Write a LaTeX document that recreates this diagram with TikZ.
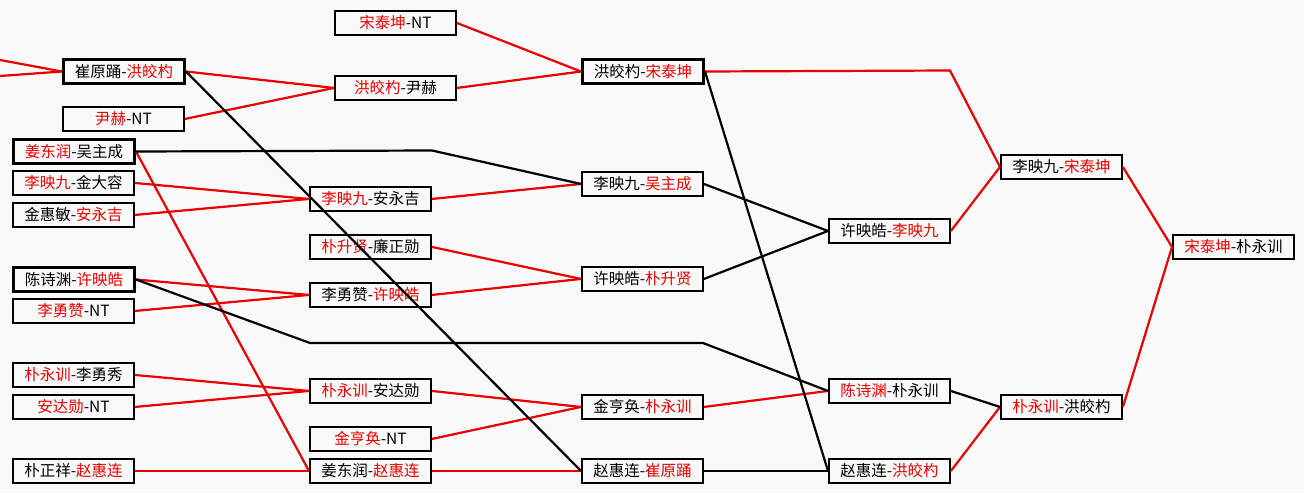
\documentclass[tikz,border=0pt]{standalone}
\usepackage{fontspec}
\setmainfont{Noto Sans CJK SC}
\definecolor{bgc}{RGB}{249,249,249}
\definecolor{rd}{RGB}{232,0,0}
\newcommand\redt[1]{\textcolor{rd}{#1}}
\begin{document}
\begin{tikzpicture}[x=1pt,y=-1pt,
  box/.style={draw=black,line width=1.9pt,minimum width=121pt,minimum height=24pt,inner sep=0pt,anchor=north west,font=\fontsize{15.5}{15.5}\selectfont},
  bbox/.style={box,line width=3pt},
  rl/.style={draw=rd,line width=2.2pt},
  bl/.style={draw=black,line width=2.2pt}]
\fill[bgc] (0,0) rectangle (1304,493);
\useasboundingbox (0,0) rectangle (1304,493);
% column 1
\node[box]  (A) at (334,10)  {\redt{宋泰坤}-NT};
\node[bbox] (B) at (62,58)   {崔原踊-\redt{洪皎杓}};
\node[box]  (C) at (334,75)  {\redt{洪皎杓}-尹赫};
\node[box]  (D) at (62,106)  {\redt{尹赫}-NT};
\node[bbox] (E) at (12,138)  {\redt{姜东润}-吴主成};
\node[box]  (F) at (12,170)  {\redt{李映九}-金大容};
\node[box]  (G) at (12,202)  {金惠敏-\redt{安永吉}};
\node[box]  (H) at (309,186) {\redt{李映九}-安永吉};
\node[box]  (I) at (309,234) {\redt{朴升贤}-廉正勋};
\node[bbox] (J) at (12,266)  {陈诗渊-\redt{许映皓}};
\node[box]  (K) at (12,298)  {\redt{李勇赞}-NT};
\node[box]  (L) at (309,282) {李勇赞-\redt{许映皓}};
\node[box]  (M) at (12,362)  {\redt{朴永训}-李勇秀};
\node[box]  (N) at (12,394)  {\redt{安达勋}-NT};
\node[box]  (O) at (309,378) {\redt{朴永训}-安达勋};
\node[box]  (P) at (309,426) {\redt{金亨奂}-NT};
\node[box]  (Q) at (12,458)  {朴正祥-\redt{赵惠连}};
\node[box]  (R) at (309,458) {姜东润-\redt{赵惠连}};
\node[bbox] (S) at (581,58)  {洪皎杓-\redt{宋泰坤}};
\node[box]  (T) at (581,171) {李映九-\redt{吴主成}};
\node[box]  (U) at (581,266) {许映皓-\redt{朴升贤}};
\node[box]  (V) at (581,394) {金亨奂-\redt{朴永训}};
\node[box]  (W) at (581,458) {赵惠连-\redt{崔原踊}};
\node[box]  (X) at (828,218) {许映皓-\redt{李映九}};
\node[box]  (Y) at (828,378) {\redt{陈诗渊}-朴永训};
\node[box]  (Z) at (828,458) {赵惠连-\redt{洪皎杓}};
\node[box]  (AA) at (1000,154) {李映九-\redt{宋泰坤}};
\node[box]  (AB) at (1000,394) {\redt{朴永训}-洪皎杓};
\node[box]  (AC) at (1172,234) {\redt{宋泰坤}-朴永训};
% bend / free-end coordinates
\coordinate (in1) at (0,60);
\coordinate (in2) at (0,76);
\coordinate (c1) at (950,70.5);
\coordinate (c2) at (432,150.5);
\coordinate (c3) at (310,343);
\coordinate (c4) at (703,343);
% red connectors
\draw[rl] (in1) -- (B.west);
\draw[rl] (in2) -- (B.west);
\draw[rl] (B.east) -- (C.west);
\draw[rl] (D.east) -- (C.west);
\draw[rl] (A.east) -- (S.west);
\draw[rl] (C.east) -- (S.west);
\draw[rl] (S.east) -- (c1) -- (AA.west);
\draw[rl] (X.east) -- (AA.west);
\draw[rl] (AA.east) -- (AC.west);
\draw[rl] (AB.east) -- (AC.west);
\draw[rl] (Z.east) -- (AB.west);
\draw[rl] (V.east) -- (Y.west);
\draw[rl] (J.east) -- (L.west);
\draw[rl] (K.east) -- (L.west);
\draw[rl] (L.east) -- (U.west);
\draw[rl] (I.east) -- (U.west);
\draw[rl] (E.east) -- (R.west);
\draw[rl] (F.east) -- (H.west);
\draw[rl] (G.east) -- (H.west);
\draw[rl] (H.east) -- (T.west);
\draw[rl] (Q.east) -- (R.west);
\draw[rl] (R.east) -- (W.west);
\draw[rl] (M.east) -- (O.west);
\draw[rl] (N.east) -- (O.west);
\draw[rl] (O.east) -- (V.west);
\draw[rl] (P.east) -- (V.west);
% black connectors
\draw[bl] (Y.east) -- (AB.west);
\draw[bl] (J.east) -- (c3) -- (c4) -- (Y.west);
\draw[bl] (U.east) -- (X.west);
\draw[bl] (T.east) -- (X.west);
\draw[bl] (E.east) -- (c2) -- (T.west);
\draw[bl] (B.east) -- (W.west);
\draw[bl] (S.east) -- (Z.west);
\draw[bl] (W.east) -- (Z.west);
\end{tikzpicture}
\end{document}
